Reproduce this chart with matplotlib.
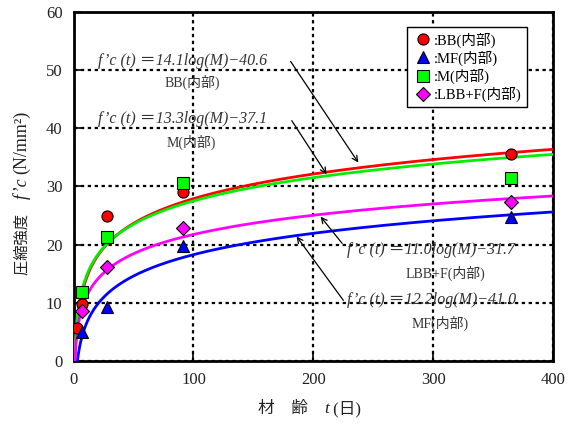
import numpy as np
import matplotlib
matplotlib.use("Agg")
import matplotlib.pyplot as plt

plt.rcParams['font.family'] = ['Liberation Serif', 'Noto Sans CJK JP', 'DejaVu Sans']

# measured points (age in days, strength N/mm2)
bb_t = [3, 7, 28, 91, 365]
bb_v = [5.6, 9.8, 24.9, 29.1, 35.5]
mf_t = [7, 28, 91, 365]
mf_v = [4.9, 9.3, 19.7, 24.7]
m_t = [7, 28, 91, 365]
m_v = [11.8, 21.3, 30.5, 31.4]
lbb_t = [7, 28, 91, 365]
lbb_v = [8.6, 16.1, 22.8, 27.4]

# fitted curve coefficients f'c(t) = a*log(M) - b, M = maturity (deg C * h)
names = ['BB', 'MF', 'M', 'LBB+F']
coef_a = [14.1, 12.2, 13.3, 11.0]
coef_b = [40.6, 41.0, 37.1, 31.7]
maturity_per_day = 720.0  # 24 h x (20+10) C

colors = {'BB': '#ff0000', 'MF': '#0000ff', 'M': '#00ee00', 'LBB+F': '#ff00ff'}

fig = plt.figure(figsize=(5.75, 4.28), dpi=100)
ax = fig.add_axes([0.128, 0.157, 0.834, 0.815])

t = np.arange(1, 401)
for n, a, b in zip(names, coef_a, coef_b):
    y = a * np.log10(maturity_per_day * t) - b
    ax.plot(t, y, color=colors[n], lw=2, zorder=3)

ax.plot(bb_t, bb_v, 'o', ms=8, mfc='#ff0000', mec='black', mew=0.8, ls='none', zorder=5, label=':BB(内部)')
ax.plot(mf_t, mf_v, '^', ms=8.5, mfc='#0000ff', mec='black', mew=0.8, ls='none', zorder=5, label=':MF(内部)')
ax.plot(m_t, m_v, 's', ms=8, mfc='#00ff00', mec='black', mew=0.8, ls='none', zorder=5, label=':M(内部)')
ax.plot(lbb_t, lbb_v, 'D', ms=7, mfc='#ff00ff', mec='black', mew=0.8, ls='none', zorder=5, label=':LBB+F(内部)')

ax.set_xlim(0, 400)
ax.set_ylim(0, 60)
ax.set_xticks([0, 100, 200, 300, 400])
ax.set_yticks([0, 10, 20, 30, 40, 50, 60])
ax.tick_params(direction='in', length=5, width=1.2, labelsize=12, pad=8, labelcolor='#222222')
for s in ax.spines.values():
    s.set_linewidth(2)
ax.grid(True, color='black', linestyle=(0, (1.5, 1.6)), lw=1.6, zorder=1)

leg = ax.legend(loc='upper left', bbox_to_anchor=(0.68, 0.977), fontsize=10.5, frameon=True,
                fancybox=False, edgecolor='black', handletextpad=0.0, handlelength=1.5,
                borderpad=0.35, labelspacing=0.2, framealpha=1, borderaxespad=0.5)
leg.get_frame().set_linewidth(1.0)

eqfs = 11.5
txtfs = 10
tc = '#333333'
ax.text(20, 51.6, "f’c (t) ＝14.1log(M)−40.6", fontsize=eqfs, style='italic', color=tc, va='center', ha='left', zorder=6)
ax.text(99, 47.8, "BB(内部)", fontsize=txtfs, color=tc, va='center', ha='center', zorder=6)
ax.text(20, 41.6, "f’c (t) ＝13.3log(M)−37.1", fontsize=eqfs, style='italic', color=tc, va='center', ha='left', zorder=6)
ax.text(98, 37.6, "M(内部)", fontsize=txtfs, color=tc, va='center', ha='center', zorder=6)
ax.text(228, 19.1, "f’c (t) ＝11.0log(M)−31.7", fontsize=eqfs, style='italic', color=tc, va='center', ha='left', zorder=6)
ax.text(310, 15.1, "LBB+F(内部)", fontsize=txtfs, color=tc, va='center', ha='center', zorder=6)
ax.text(228, 10.4, "f’c (t) ＝12.2log(M)−41.0", fontsize=eqfs, style='italic', color=tc, va='center', ha='left', zorder=6)
ax.text(306, 6.4, "MF(内部)", fontsize=txtfs, color=tc, va='center', ha='center', zorder=6)

ap = dict(arrowstyle='->', color='black', lw=0.9, shrinkA=0, shrinkB=0)
ax.annotate('', xy=(237.5, 34.1), xytext=(181, 51.5), arrowprops=ap, zorder=6)
ax.annotate('', xy=(211, 32.1), xytext=(182, 41.3), arrowprops=ap, zorder=6)
ax.annotate('', xy=(206, 24.8), xytext=(224, 20.2), arrowprops=ap, zorder=6)
ax.annotate('', xy=(186, 21.4), xytext=(225, 10.4), arrowprops=ap, zorder=6)

# axis labels assembled from pieces (mixed upright / italic)
fig.canvas.draw()
renderer = fig.canvas.get_renderer()
W, H = fig.bbox.width, fig.bbox.height


def place_row(pieces, x0, y0, rotation=0):
    """pieces: list of (text, style, size). x0,y0 pixel start; rotation 0 or 90."""
    pos = x0 if rotation == 0 else y0
    for txt, sty, fs in pieces:
        if rotation == 0:
            tt = fig.text(pos / W, y0 / H, txt, fontsize=fs, style=sty, color='#222222',
                          ha='left', va='center')
        else:
            tt = fig.text(x0 / W, pos / H, txt, fontsize=fs, style=sty, color='#222222',
                          ha='center', va='bottom', rotation=90)
        bb = tt.get_window_extent(renderer)
        pos = (bb.x1 if rotation == 0 else bb.y1)


place_row([("材　齢　", 'normal', 12), ("t", 'italic', 12.5), (" (日)", 'normal', 12)], 258, 428 - 409)
place_row([("圧縮強度　", 'normal', 11), ("f’c ", 'italic', 13), ("(N/mm²)", 'normal', 13)],
          22, 428 - 275, rotation=90)

fig.savefig("out.png", dpi=100)
